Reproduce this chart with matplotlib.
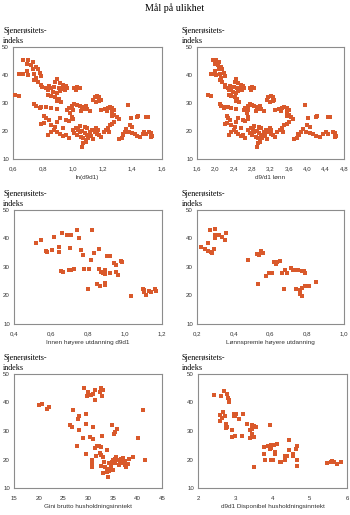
import numpy as np
import matplotlib
matplotlib.use('Agg')
import matplotlib.pyplot as plt

# d9/d1 lønn (panel 2); panel 1 viser ln av samme tall
d9d1_lonn = [1.95, 2.02, 2.08, 2.0, 2.05, 2.12, 2.15, 2.08, 2.0, 1.9, 1.95, 2.02, 2.1, 2.18, 2.2, 2.12, 2.1, 2.15, 2.2, 2.22, 2.28,
             2.45, 2.42, 2.5, 2.55, 2.6, 2.62, 2.55, 2.48, 2.4, 2.35, 2.3, 2.38, 2.45, 2.5, 2.3, 2.35, 2.42, 2.48, 2.45, 2.52, 2.58, 2.32,
             2.75, 2.8, 2.85, 2.78, 1.85, 1.9,
             2.1, 2.12, 2.18, 2.28, 2.35, 2.45, 2.2,
             2.62, 2.65, 2.7, 2.75, 2.8, 2.85, 2.9, 2.95, 3.0, 3.05, 2.68, 2.72, 2.88, 2.98,
             3.12, 3.15, 3.2, 3.25, 3.28, 3.18, 3.25,
             3.3, 3.38, 3.45, 3.5, 3.55, 3.6, 3.42, 3.55,
             3.6, 3.65, 3.7, 3.55, 3.95,
             4.02, 4.18, 4.22, 4.45, 4.5, 4.0, 4.05,
             3.97, 4.05, 4.12, 4.2, 4.28, 4.35, 4.4, 4.45, 4.55, 4.6, 4.62, 4.6,
             3.72, 3.78, 3.82, 3.86, 3.9, 3.8,
             3.35, 3.4, 3.45, 3.5, 3.55, 3.6, 3.48,
             2.25, 2.28, 2.32, 2.25, 2.2, 2.35, 2.42, 2.55, 2.6, 2.65, 2.7, 2.72, 2.5, 2.45,
             2.35, 2.4, 2.45, 2.5, 2.55, 2.6, 2.65, 2.3,
             2.72, 2.78, 2.82, 2.85, 2.9, 2.95, 3.0, 3.05, 3.1, 3.15, 3.2, 3.25, 3.3, 2.8, 2.88, 2.92, 2.97, 3.02, 3.08, 3.12,
             2.95, 3.0, 2.75, 2.85, 3.18, 3.22, 2.92, 2.9, 2.98]
sjen_lonn = [45.5, 45.2, 44.8, 44.0, 43.5, 43.0, 42.0, 42.0, 41.5, 40.5, 40.3, 40.0, 40.5, 40.8, 39.8, 39.0, 38.2, 37.5, 36.5, 35.8, 35.2,
             38.5, 37.6, 37.2, 36.5, 36.0, 35.3, 35.0, 35.5, 35.8, 35.2, 34.5, 34.0, 33.5, 34.2, 33.0, 32.5, 32.0, 31.5, 30.8, 30.5, 34.6, 36.2,
             35.2, 35.8, 35.5, 34.6, 32.8, 32.4,
             29.6, 28.8, 28.2, 28.4, 28.3, 27.8, 28.5,
             27.5, 28.2, 29.0, 29.8, 29.4, 29.0, 28.6, 28.0, 27.8, 27.2, 26.5, 27.5, 27.0, 29.0,
             31.0, 32.2, 32.5, 32.0, 31.2, 30.5, 30.8,
             27.5, 27.8, 28.2, 28.6, 28.2, 27.5, 27.2, 26.8,
             25.8, 25.0, 24.2, 25.3, 29.4,
             24.8, 25.0, 25.2, 25.1, 25.0, 22.2, 21.4,
             19.8, 19.3, 19.0, 18.3, 18.0, 18.8, 19.6, 19.0, 19.5, 19.2, 18.3, 17.8,
             17.0, 17.4, 18.5, 19.6, 20.6, 19.0,
             19.5, 20.4, 21.2, 22.0, 22.6, 23.2, 19.8,
             25.3, 24.5, 24.0, 23.0, 22.5, 22.2, 21.5, 21.0, 24.0, 23.6, 25.0, 24.2, 24.5, 23.2,
             19.8, 20.5, 19.5, 19.0, 18.2, 18.5, 17.6, 18.6,
             20.5, 21.0, 20.2, 19.5, 20.0, 19.2, 18.7, 19.5, 20.2, 19.8, 19.0, 18.4, 17.8, 18.4, 18.0, 17.5, 16.8, 17.5, 18.2, 17.2,
             21.5, 21.0, 19.2, 21.8, 21.0, 20.3, 15.8, 14.2, 16.2]

# Innen høyere utdanning d9d1
innen_x = [0.519, 0.545, 0.574, 0.581, 0.608, 0.618, 0.645, 0.645, 0.654, 0.663, 0.662, 0.685, 0.707, 0.703, 0.698, 0.710,
           0.725, 0.743, 0.754, 0.763, 0.772, 0.777, 0.801, 0.806, 0.822, 0.818, 0.834, 0.857, 0.85, 0.867, 0.86, 0.87,
           0.88, 0.89, 0.89, 0.89, 0.89, 0.905, 0.92, 0.919, 0.94, 0.95, 0.95, 0.96, 0.98, 0.985, 1.034, 1.097, 1.104,
           1.111, 1.13, 1.14, 1.16, 1.165, 1.10]
innen_y = [38.5, 39.5, 35.6, 35.4, 36.0, 40.4, 37.0, 35.1, 28.7, 28.1, 41.8, 41.1, 41.1, 36.8, 28.9, 28.9,
           29.4, 43.1, 40.3, 36.0, 34.3, 29.3, 22.3, 29.4, 42.9, 32.5, 34.9, 36.3, 23.9, 23.5, 29.2, 28.4,
           27.9, 28.9, 27.6, 24.5, 23.6, 33.7, 33.9, 27.8, 31.5, 30.7, 28.4, 27.2, 32.0, 31.8, 19.9, 22.3, 21.2,
           20.1, 21.7, 21.4, 22.4, 21.7, 21.9]

# Lønnspremie høyere utdanning
premie_x = [0.224, 0.245, 0.262, 0.276, 0.284, 0.29, 0.26, 0.27, 0.296, 0.296, 0.3, 0.32, 0.335, 0.35, 0.36,
            0.476, 0.525, 0.54, 0.55, 0.553, 0.56, 0.533, 0.573, 0.59, 0.61, 0.62, 0.63, 0.636, 0.65, 0.66,
            0.675, 0.68, 0.69, 0.71, 0.72, 0.73, 0.74, 0.75, 0.77, 0.78, 0.787, 0.74, 0.762, 0.76, 0.77,
            0.77, 0.79, 0.81, 0.845, 0.76]
premie_y = [36.9, 36.2, 35.5, 35.3, 35.0, 36.2, 38.5, 43.0, 43.2, 41.1, 40.2, 41.1, 40.4, 39.5, 41.8,
            32.5, 34.6, 34.1, 35.7, 35.0, 34.8, 24.0, 26.8, 27.8, 28.0, 31.6, 31.1, 31.6, 32.2, 27.8,
            22.4, 29.0, 28.0, 29.6, 28.9, 29.1, 28.9, 28.9, 28.7, 28.5, 27.8, 22.4, 21.9, 20.5, 19.8,
            22.8, 23.5, 23.5, 24.9, 21.2]

# Gini brutto husholdningsinntekt
gini_x = [20.1, 20.6, 21.7, 22.1, 27.0, 28.2, 28.0, 26.3, 26.8, 28.1, 29.6, 29.6, 29.0, 29.1, 30.0, 29.8, 30.7, 31.0,
          31.4, 31.4, 32.4, 32.7, 33.1, 32.8, 31.0, 30.5, 31.1, 32.9, 27.7, 29.6, 31.4, 31.8, 32.2, 32.7, 32.4,
          32.7, 31.7, 30.8, 30.9, 30.8, 32.6, 33.1, 33.3, 33.5, 33.1, 33.8, 34.1, 33.8, 34.9, 35.8, 35.5, 35.2,
          34.3, 34.7, 34.8, 35.0, 35.4, 35.7, 35.7, 36.1, 36.4, 36.7, 37.1, 37.4, 37.5, 37.7, 38.1, 38.3, 39.2,
          40.2, 41.2, 41.6, 34.6, 34.2, 35.0, 35.4, 36.3, 37.0, 33.8]
gini_y = [39.2, 39.6, 37.8, 38.4, 37.3, 35.4, 34.2, 32.1, 31.4, 30.2, 32.5, 36.1, 27.7, 45.1, 43.8, 42.4, 42.6, 43.1,
          44.5, 40.8, 43.7, 45.2, 44.3, 42.4, 31.4, 27.8, 27.2, 28.4, 24.7, 21.9, 23.9, 24.6, 24.6, 24.4, 22.3,
          21.6, 21.1, 19.9, 18.4, 17.4, 17.6, 20.8, 19.0, 17.4, 15.3, 15.5, 13.9, 23.2, 32.2, 30.8, 29.6, 29.0,
          18.6, 17.6, 19.0, 19.9, 20.2, 19.7, 20.8, 19.9, 19.0, 20.2, 20.5, 19.4, 18.2, 17.3, 18.4, 20.2, 20.8,
          27.7, 37.3, 19.9, 16.9, 16.1, 16.2, 18.8, 17.9, 18.8, 16.5]

# d9d1 Disponibel husholdningsinntekt
disp_x = [2.44, 2.62, 2.71, 2.77, 2.8, 2.82, 2.84, 2.68, 2.73, 2.6, 2.64, 2.59, 2.75, 2.77, 2.75, 2.91, 2.91, 2.96,
          3.0, 3.03, 2.96, 3.09, 3.21, 3.0, 3.19, 3.32, 3.39, 3.39, 3.44, 3.44, 3.49, 3.55, 3.45, 3.49, 3.45,
          3.51, 3.78, 3.78, 3.8, 3.89, 3.92, 3.96, 3.97, 4.03, 4.06, 4.06, 3.94, 3.96, 4.0, 4.12, 4.19, 4.24,
          4.33, 4.34, 4.4, 4.44, 4.45, 4.54, 4.55, 4.63, 4.65, 4.67, 4.67, 5.47, 5.56, 5.61, 5.66, 5.72, 5.84]
disp_y = [42.6, 42.2, 44.0, 43.1, 41.5, 40.8, 40.1, 36.8, 35.1, 35.6, 34.4, 33.5, 32.3, 31.4, 30.9, 30.2, 27.9, 36.1,
          35.4, 36.1, 35.1, 34.2, 36.1, 28.4, 28.4, 32.3, 27.4, 30.2, 30.7, 31.9, 31.6, 31.4, 28.8, 27.9, 32.1,
          17.3, 24.4, 21.8, 19.7, 24.8, 23.7, 25.1, 24.2, 25.1, 22.5, 21.8, 32.2, 19.7, 19.9, 25.6, 19.2, 19.0,
          19.7, 21.3, 21.3, 26.7, 23.2, 21.8, 21.1, 23.7, 24.6, 19.9, 17.8, 18.8, 19.2, 19.5, 19.2, 18.5, 19.2]

W, H = 350, 515
farge = '#d9592b'
serif = ['Liberation Serif', 'DejaVu Serif']
sans = ['Liberation Sans', 'DejaVu Sans']

fig = plt.figure(figsize=(W / 100, H / 100), dpi=100)

def px_axes(left, top, right, bottom):
    return fig.add_axes([left / W, 1 - bottom / H, (right - left) / W, (bottom - top) / H])

def fmt(v, dec):
    return ('%.*f' % (dec, v)).replace('.', ',')

paneler = [
    # x, y, xlabel, xlim, step, dec, (left, top, right, bottom)
    (np.log(d9d1_lonn), sjen_lonn, 'ln(d9d1)', (0.6, 1.6), 0.2, 1, (13, 47, 162, 159)),
    (d9d1_lonn, sjen_lonn, 'd9/d1 lønn', (1.6, 4.8), 0.4, 1, (197, 47, 344, 159)),
    (innen_x, innen_y, 'Innen høyere utdanning d9d1', (0.4, 1.2), 0.2, 1, (14, 210, 162, 324)),
    (premie_x, premie_y, 'Lønnspremie høyere utdanning', (0.2, 1.0), 0.2, 1, (197, 210, 344, 324)),
    (gini_x, gini_y, 'Gini brutto husholdningsinntekt', (15, 45), 5, 0, (14, 374, 162, 488)),
    (disp_x, disp_y, 'd9d1 Disponibel husholdningsinntekt', (2, 6), 1, 0, (198, 374, 347, 488)),
]

for x, y, xlab, xlim, step, dec, box in paneler:
    ax = px_axes(*box)
    ax.scatter(x, y, marker='s', s=9, color=farge, linewidths=0, zorder=3)
    ax.set_xlim(*xlim)
    ax.set_ylim(10, 50)
    xt = np.arange(xlim[0], xlim[1] + step / 2, step)
    ax.set_xticks(xt)
    ax.set_xticklabels([fmt(v, dec) for v in xt])
    ax.set_yticks([10, 20, 30, 40, 50])
    ax.tick_params(length=0, labelsize=4.4, colors='#333333')
    ax.tick_params(axis='x', pad=5.5)
    ax.tick_params(axis='y', pad=3)
    for lab in ax.get_xticklabels() + ax.get_yticklabels():
        lab.set_family(sans)
    for sp in ax.spines.values():
        sp.set_color('#8c8c8c')
        sp.set_linewidth(0.8)
    ax.set_xlabel(xlab, fontsize=4.6, family=sans, labelpad=2.5, color='#333333')
    # y-tittel over aksen
    left, top = box[0], box[1]
    tx = 3 if left < 100 else 182
    fig.text(tx / W, 1 - (top - 2) / H, 'Sjenerøsitets-\nindeks', fontsize=5.8,
             family=serif, ha='left', va='bottom', linespacing=1.35)

fig.text(0.5, 1 - 8 / H, 'Mål på ulikhet', fontsize=7.2, family=serif, ha='center', va='center')

fig.savefig('out.png', dpi=100)
